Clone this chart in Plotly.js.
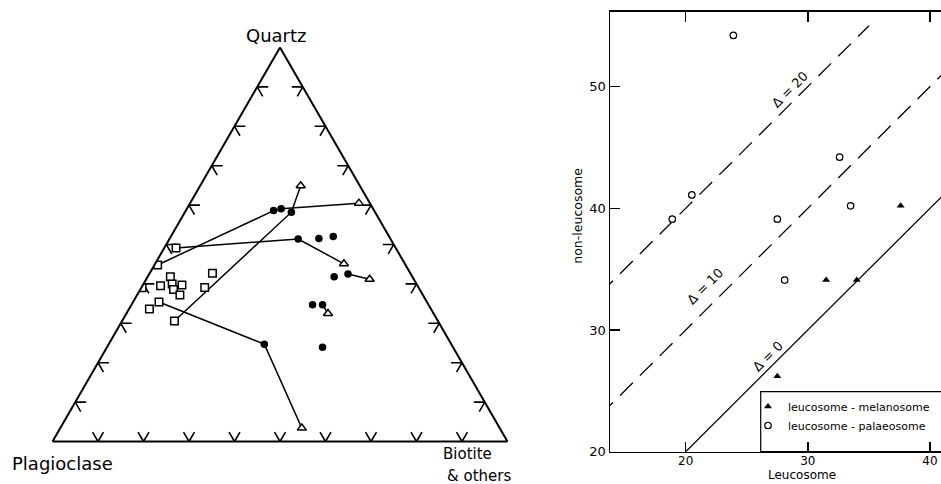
<!DOCTYPE html>
<html><head><meta charset="utf-8">
<script src="https://cdn.plot.ly/plotly-3.0.1.min.js"></script>
<style>html,body{margin:0;padding:0;background:#fff;overflow:hidden}#chart{width:941px;height:484px}</style>
</head><body><div id="chart"></div>
<script>
// ---- Ternary data (percent): Quartz, Plagioclase, Biotite & others ----
const sqQ = [49.1,44.8,41.8,42.7,39.5,39.0,40.0,39.7,38.6,37.2,39.1,35.4,33.6,30.6];
const sqP = [48.3,54.5,53.2,43.5,56.5,60.8,53.7,51.7,54.1,53.4,47.0,58.9,61.9,57.9];
const sqB = [2.6,0.7,5.0,13.8,4.0,0.2,6.3,8.6,7.3,9.4,13.9,5.7,4.5,11.5];
const ciQ = [58.6,59.1,58.2,51.4,51.5,52.0,41.8,42.5,34.7,34.7,24.7,23.9];
const ciP = [22.1,20.2,18.4,20.3,15.7,12.3,17.2,13.8,25.5,23.3,41.1,28.7];
const ciB = [19.3,20.7,23.4,28.3,32.8,35.7,41.0,43.7,39.8,42.0,34.2,47.4];
const trQ = [64.9,60.5,45.1,41.2,32.5,3.4];
const trP = [13.0,2.4,13.4,9.7,23.2,43.5];
const trB = [22.1,37.1,41.5,49.1,44.3,53.1];
// tie lines: references into the point groups above
const tieLines = [
  [['sq',1],['ci',0],['ci',1],['tr',1]],
  [['sq',13],['ci',2],['tr',0]],
  [['sq',0],['ci',3],['tr',2]],
  [['ci',7],['tr',3]],
  [['sq',11],['ci',10],['tr',5]],
  [['ci',9],['tr',4]]
];
const ternTicks = [10,20,30,40,50,60,70,80,90];

// ---- Scatter data ----
const melX = [37.6,31.5,34.0,27.5];
const melY = [40.2,34.1,34.1,26.2];
const palX = [23.9,18.9,20.5,32.6,27.5,33.5,28.1];
const palY = [54.2,39.1,41.1,44.2,39.1,40.2,34.1];
const deltas = [0,10,20];
const deltaXStart = [20,13,13];
const deltaXEnd = [45,45,35];
const xTicks = [20,30,40];
const yTicks = [20,30,40,50];

const groups = {sq:[sqQ,sqP,sqB], ci:[ciQ,ciP,ciB], tr:[trQ,trP,trB]};
const traces = [];

// grid stubs on the triangle edges
(function(){
  const a=[],b=[],c=[]; const d=2.4;
  const p=(x,y,z)=>{a.push(x);b.push(y);c.push(z);};
  const gap=()=>{a.push(null);b.push(null);c.push(null);};
  ternTicks.forEach(t=>{
    p(t,100-t-d,d); p(t,100-t,0); p(t-d,100-t,d); gap();
    p(t,d,100-t-d); p(t,0,100-t); p(t-d,d,100-t); gap();
    p(d,100-t,t-d); p(0,100-t,t); p(d,100-t-d,t); gap();
  });
  traces.push({type:'scatterternary', mode:'lines', a:a, b:b, c:c, connectgaps:false,
    line:{color:'black', width:1.6}, showlegend:false, hoverinfo:'skip'});
})();

tieLines.forEach(tl=>{
  traces.push({type:'scatterternary', mode:'lines',
    a: tl.map(r=>groups[r[0]][0][r[1]]),
    b: tl.map(r=>groups[r[0]][1][r[1]]),
    c: tl.map(r=>groups[r[0]][2][r[1]]),
    line:{color:'black', width:1.5}, showlegend:false, hoverinfo:'skip'});
});
traces.push({type:'scatterternary', mode:'markers', a:sqQ, b:sqP, c:sqB, showlegend:false,
  marker:{symbol:'square', size:7.5, color:'white', line:{color:'black', width:1.5}}});
traces.push({type:'scatterternary', mode:'markers', a:ciQ, b:ciP, c:ciB, showlegend:false,
  marker:{symbol:'circle', size:7.5, color:'black'}});
traces.push({type:'scatterternary', mode:'markers', a:trQ, b:trP, c:trB, showlegend:false,
  marker:{symbol:'triangle-up', size:8, color:'white', line:{color:'black', width:1.5}}});

// delta reference lines
deltas.forEach((dv,i)=>{
  const xs=[deltaXStart[i], deltaXEnd[i]];
  traces.push({type:'scatter', mode:'lines', x:xs, y:xs.map(v=>v+dv), xaxis:'x', yaxis:'y',
    line:{color:'black', width:1.3, dash: dv===0 ? 'solid' : '18px,10px'}, showlegend:false, hoverinfo:'skip'});
});
traces.push({type:'scatter', mode:'markers', x:melX, y:melY, name:'leucosome - melanosome',
  marker:{symbol:'triangle-up', size:7, color:'black'}});
traces.push({type:'scatter', mode:'markers', x:palX, y:palY, name:'leucosome - palaeosome',
  marker:{symbol:'circle', size:6.5, color:'white', line:{color:'black', width:1.2}}});

const tAx = {showgrid:false, showticklabels:false, ticks:'', linecolor:'black', linewidth:2, title:{text:''}};
const F = 'DejaVu Sans';
const px = v=>v/941, py = v=>1-v/484;
const ann = (text, x, y, size, extra)=>Object.assign({text:text, xref:'paper', yref:'paper', x:px(x), y:py(y),
  xanchor:'center', yanchor:'middle', showarrow:false, font:{family:F, size:size, color:'black'}}, extra||{});

const layout = {
  width:941, height:484, margin:{l:0,r:0,t:0,b:0},
  paper_bgcolor:'white', plot_bgcolor:'white',
  font:{family:F, color:'black'},
  ternary:{domain:{x:[px(52.5),px(507.5)], y:[py(441.5),py(47.5)]}, sum:100, bgcolor:'rgba(0,0,0,0)',
    aaxis:tAx, baxis:tAx, caxis:tAx},
  xaxis:{domain:[px(610),1], range:[13.8,40.9], tickvals:xTicks, ticks:'inside', ticklen:10, tickwidth:1.5,
    tickcolor:'black', showline:true, linecolor:'black', linewidth:1.5, mirror:'ticks', showgrid:false,
    zeroline:false, tickfont:{family:F, size:12, color:'black'}, ticklabelstandoff:-3, anchor:'y'},
  yaxis:{domain:[py(451.7),py(11.7)], range:[20,56.15], tickvals:yTicks, ticks:'inside', ticklen:10, tickwidth:1.5,
    tickcolor:'black', showline:true, linecolor:'black', linewidth:1.5, showgrid:false,
    zeroline:false, tickfont:{family:F, size:13, color:'black'}, anchor:'x'},
  showlegend:true,
  legend:{x:px(748), y:py(392), xanchor:'left', yanchor:'top', bgcolor:'rgba(0,0,0,0)', borderwidth:0,
    font:{family:F, size:11, color:'black'}, itemwidth:30, tracegroupgap:0},
  shapes:[{type:'rect', xref:'paper', yref:'paper', x0:px(760.7), x1:1.02, y0:py(451.7), y1:py(391.7),
    line:{color:'black', width:1.2}, fillcolor:'rgba(0,0,0,0)', layer:'above'}],
  annotations:[
    ann('Quartz', 276.7, 36, 18),
    ann('Plagioclase', 62.5, 463, 18),
    ann('Biotite', 441, 465, 15, {xanchor:'left', yanchor:'bottom'}),
    ann('& others', 445, 465, 15, {xanchor:'left', yanchor:'top'}),
    ann('non-leucosome', 576.7, 216, 12.5, {textangle:-90}),
    ann('Leucosome', 801.7, 484, 12, {yanchor:'bottom'}),
    {text:'Δ = 20', xref:'x', yref:'y', x:28.55, y:49.72, textangle:-45, showarrow:false, xanchor:'center', yanchor:'middle', font:{family:F,size:13}},
    {text:'Δ = 10', xref:'x', yref:'y', x:21.58, y:33.56, textangle:-45, showarrow:false, xanchor:'center', yanchor:'middle', font:{family:F,size:13}},
    {text:'Δ = 0', xref:'x', yref:'y', x:26.72, y:27.8, textangle:-45, showarrow:false, xanchor:'center', yanchor:'middle', font:{family:F,size:13}}
  ]
};
Plotly.newPlot('chart', traces, layout, {staticPlot:true});
</script></body></html>
